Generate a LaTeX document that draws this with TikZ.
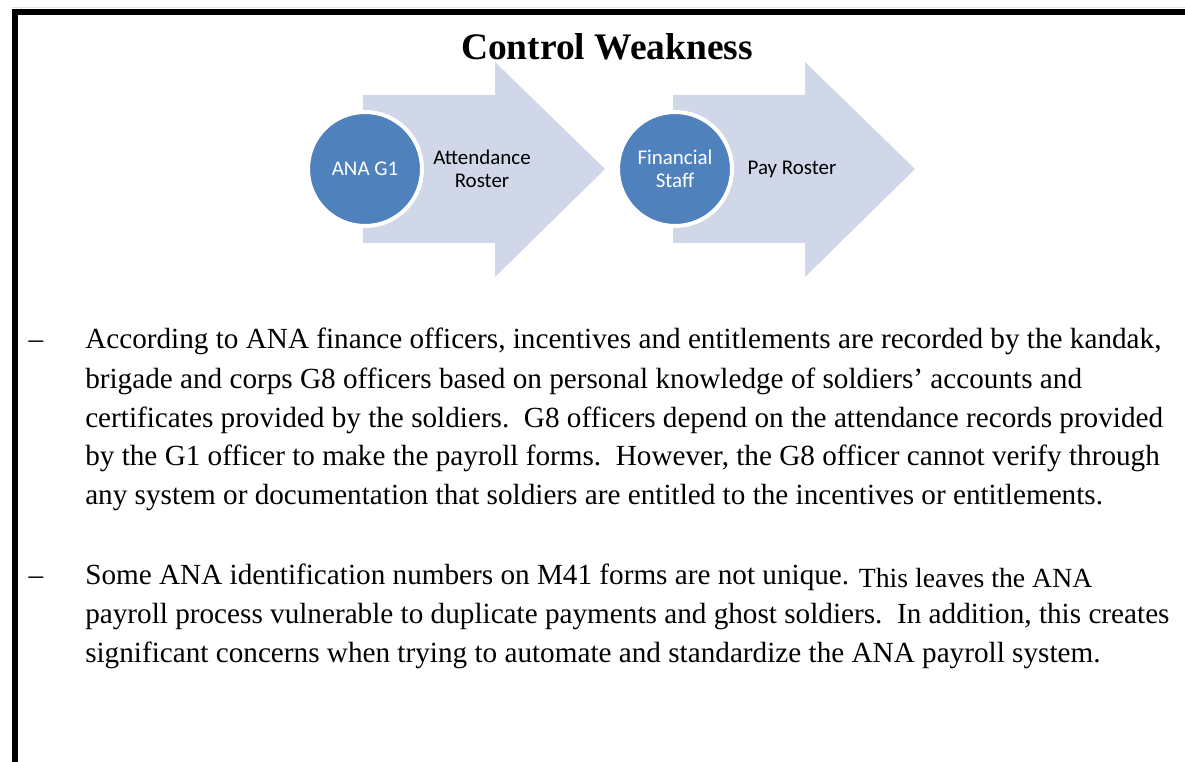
\documentclass[tikz,border=0pt]{standalone}
\usepackage{fontspec}
\setmainfont{Liberation Serif}
\newfontfamily\smartfont{Carlito}
\definecolor{chevron}{RGB}{208,215,232}
\definecolor{disc}{RGB}{79,129,189}

\tikzset{
    roundel/.style={circle, fill=disc, draw=white, line width=3pt, minimum size=85.5pt, inner sep=0pt,
        text=white, align=center, font=\smartfont\fontsize{15.7}{17.25}\selectfont},
    steptext/.style={align=center, font=\smartfont\fontsize{15.7}{17.25}\selectfont},
    bodytext/.style={anchor=base west, align=left, inner sep=0pt, font=\fontsize{21.9}{29.25}\selectfont},
    dashmark/.style={anchor=base, font=\fontsize{21.9}{29.25}\selectfont}
}

\begin{document}
\begin{tikzpicture}[x=0.75pt,y=-0.75pt]

    \useasboundingbox (0,0) rectangle (1185,762);

    % frame
    \draw[gray!20, line width=0.75pt] (11,7.5) -- (1185,7.5);
    \draw[line width=4.5pt] (1185,12) -- (14.5,12) -- (14.5,762);

    \node[font=\bfseries\fontsize{28.1}{30}\selectfont, anchor=base] (title) at (607,60) {Control Weakness};

    % chevrons
    \fill[chevron] (363,95) -- (495,95) -- (495,62) -- (605,169) -- (495,277) -- (495,243) -- (363,243) -- cycle;
    \fill[chevron] (673,95) -- (805,95) -- (805,62) -- (915,169) -- (805,277) -- (805,243) -- (673,243) -- cycle;

    \node[roundel] (g1) at (365,169) {ANA G1};
    \node[steptext] (att) at (482,169) {Attendance\\Roster};

    \node[roundel] (fin) at (675,169) {Financial\\Staff};
    \node[steptext] (pay) at (792,169) {Pay Roster};

    % findings (anchored on the last line)
    \node[dashmark] (d1) at (36,349) {--};
    \node[bodytext] (p1) at (85,505) {According to ANA finance officers, incentives and entitlements are recorded by the kandak,\\
        brigade and corps G8 officers based on personal knowledge of soldiers' accounts and\\
        certificates provided by the soldiers.\ \ G8 officers depend on the attendance records provided\\
        by the G1 officer to make the payroll forms.\ \ However, the G8 officer cannot verify through\\
        any system or documentation that soldiers are entitled to the incentives or entitlements.};

    \node[dashmark] (d2) at (36,584) {--};
    \node[bodytext] (p2) at (85,662) {Some ANA identification numbers on M41 forms are not unique. \raisebox{-2.25pt}{\fontsize{20.8}{29.25}\selectfont This leaves the ANA}\\
        payroll process vulnerable to duplicate payments and ghost soldiers.\ \ In addition, this creates\\
        significant concerns when trying to automate and standardize the ANA payroll system.};

\end{tikzpicture}
\end{document}
